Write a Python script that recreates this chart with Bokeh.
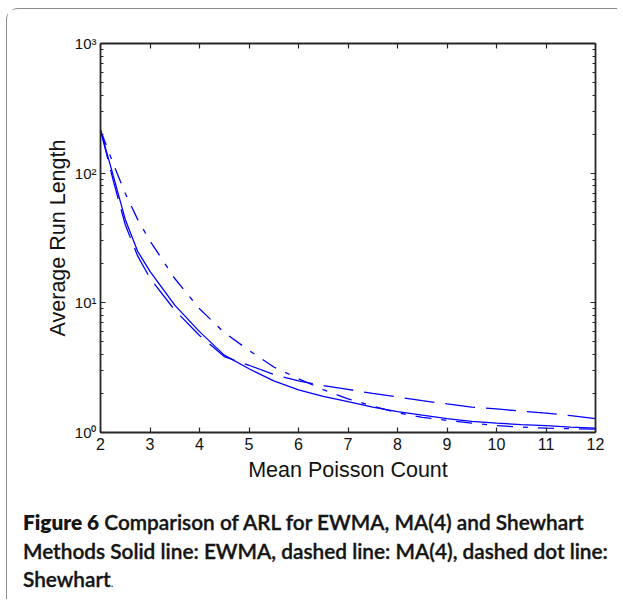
from bokeh.plotting import figure
from bokeh.models import (Range1d, LinearAxis, LogAxis, FixedTicker, LogTicker, Div)
from bokeh.layouts import column
from bokeh.embed import file_html
from bokeh.resources import INLINE

# ---- data ----
mean_count = [2, 2.25, 2.5, 2.75, 3, 3.5, 4, 4.5, 5, 5.5, 6, 6.5, 7, 7.5, 8,
              8.5, 9, 9.5, 10, 10.5, 11, 11.5, 12]
arl_ewma = [215, 98, 44, 25, 17.5, 9.6, 6.0, 3.95, 3.1, 2.5, 2.13, 1.9, 1.73,
            1.57, 1.45, 1.36, 1.28, 1.22, 1.18, 1.15, 1.13, 1.10, 1.08]
arl_ma4 = [215, 90, 40, 23, 15.5, 8.8, 5.6, 3.85, 3.3, 2.8, 2.5, 2.3, 2.15,
           2.0, 1.88, 1.76, 1.66, 1.57, 1.52, 1.46, 1.41, 1.35, 1.28]
arl_shewhart = [215, 120, 70, 44, 30, 15.4, 9.0, 5.9, 4.3, 3.2, 2.6, 2.14, 1.82,
                1.6, 1.42, 1.31, 1.24, 1.18, 1.13, 1.10, 1.08, 1.07, 1.06]

x_ticks = [2, 3, 4, 5, 6, 7, 8, 9, 10, 11, 12]
y_ticks = [1, 10, 100, 1000]
y_tick_labels = ["10\u2070", "10\u00b9", "10\u00b2", "10\u00b3"]

x_label = "Mean Poisson Count"
y_label = "Average Run Length"
caption_bold = "Figure 6"
caption_line1 = "Comparison of ARL for EWMA, MA(4) and Shewhart"
caption_line2 = "Methods Solid line: EWMA, dashed line: MA(4), dashed dot line:"
caption_line3 = "Shewhart"

AX = "#262626"
TICK_FONT = "Liberation Sans"

p = figure(width=606, height=494, y_axis_type="log",
           x_range=Range1d(2, 12), y_range=Range1d(1, 1000),
           output_backend="svg", toolbar_location=None,
           min_border_left=93, min_border_right=18,
           min_border_top=34, min_border_bottom=71)
p.grid.visible = False
p.outline_line_color = None
p.background_fill_color = "white"
p.border_fill_color = "white"

lw = 1.3
col = "#0000ff"
p.line(mean_count, arl_ewma, line_color=col, line_width=lw)
p.line(mean_count, arl_ma4, line_color=col, line_width=lw, line_dash="30 11")
p.line(mean_count, arl_shewhart, line_color=col, line_width=lw, line_dash="16 10 5 10")


def style_axis(ax, show_labels, size="16px"):
    ax.axis_line_color = AX
    ax.axis_line_width = 1.8
    ax.major_tick_line_color = AX
    ax.minor_tick_line_color = AX
    ax.major_tick_line_width = 1.2
    ax.minor_tick_line_width = 1.0
    ax.major_tick_in = 5
    ax.major_tick_out = 0
    ax.minor_tick_in = 3
    ax.minor_tick_out = 0
    ax.major_label_text_font = TICK_FONT
    ax.major_label_text_font_size = size
    ax.major_label_text_color = "#111111"
    if not show_labels:
        ax.major_label_text_font_size = "0px"
        ax.major_label_text_color = None


# bottom x axis
xa = p.xaxis[0]
xa.ticker = FixedTicker(ticks=x_ticks, minor_ticks=[])
style_axis(xa, True, "16px")
xa.major_label_standoff = 5
xa.axis_label = x_label
xa.axis_label_text_font = TICK_FONT
xa.axis_label_text_font_size = "21.5px"
xa.axis_label_text_font_style = "normal"
xa.axis_label_text_color = "#111111"
xa.axis_label_standoff = 5

# left y axis
ya = p.yaxis[0]
ya.ticker = LogTicker(num_minor_ticks=10)
style_axis(ya, True, "15px")
ya.major_label_overrides = {t: s for t, s in zip(y_ticks, y_tick_labels)}
ya.major_label_standoff = 4
ya.axis_label = y_label
ya.axis_label_text_font = TICK_FONT
ya.axis_label_text_font_size = "21.5px"
ya.axis_label_text_font_style = "normal"
ya.axis_label_text_color = "#111111"
ya.axis_label_standoff = 2

# mirrored top and right axes (ticks only)
top = LinearAxis(ticker=FixedTicker(ticks=x_ticks, minor_ticks=[]))
style_axis(top, False)
p.add_layout(top, "above")
right = LogAxis(ticker=LogTicker(num_minor_ticks=10))
style_axis(right, False)
p.add_layout(right, "right")

cap_html = (
    '<div style="font-family: Lato, \'Open Sans\', sans-serif; font-size: 20.8px; '
    'line-height: 28.5px; color: #151515; font-weight: 600; white-space: nowrap; '
    '-webkit-text-stroke: 0.35px #151515; padding-left: 11px;">'
    '<span style="font-weight: 800; -webkit-text-stroke: 0;">' + caption_bold + '</span> '
    + caption_line1 + '<br>'
    + caption_line2 + '<br>' + caption_line3
    + '<span style="font-weight: 400; font-size: 11px; -webkit-text-stroke: 0;">.</span></div>'
)
cap = Div(text=cap_html, width=600, height=86)

layout = column(p, cap, spacing=0)
layout.styles = {"border-left": "1.5px solid #8c8c8c",
                 "border-top": "1.5px solid #8c8c8c",
                 "border-top-left-radius": "12px",
                 "margin-left": "6px",
                 "margin-top": "8px"}

open("out.html", "w").write(file_html(layout, INLINE))
